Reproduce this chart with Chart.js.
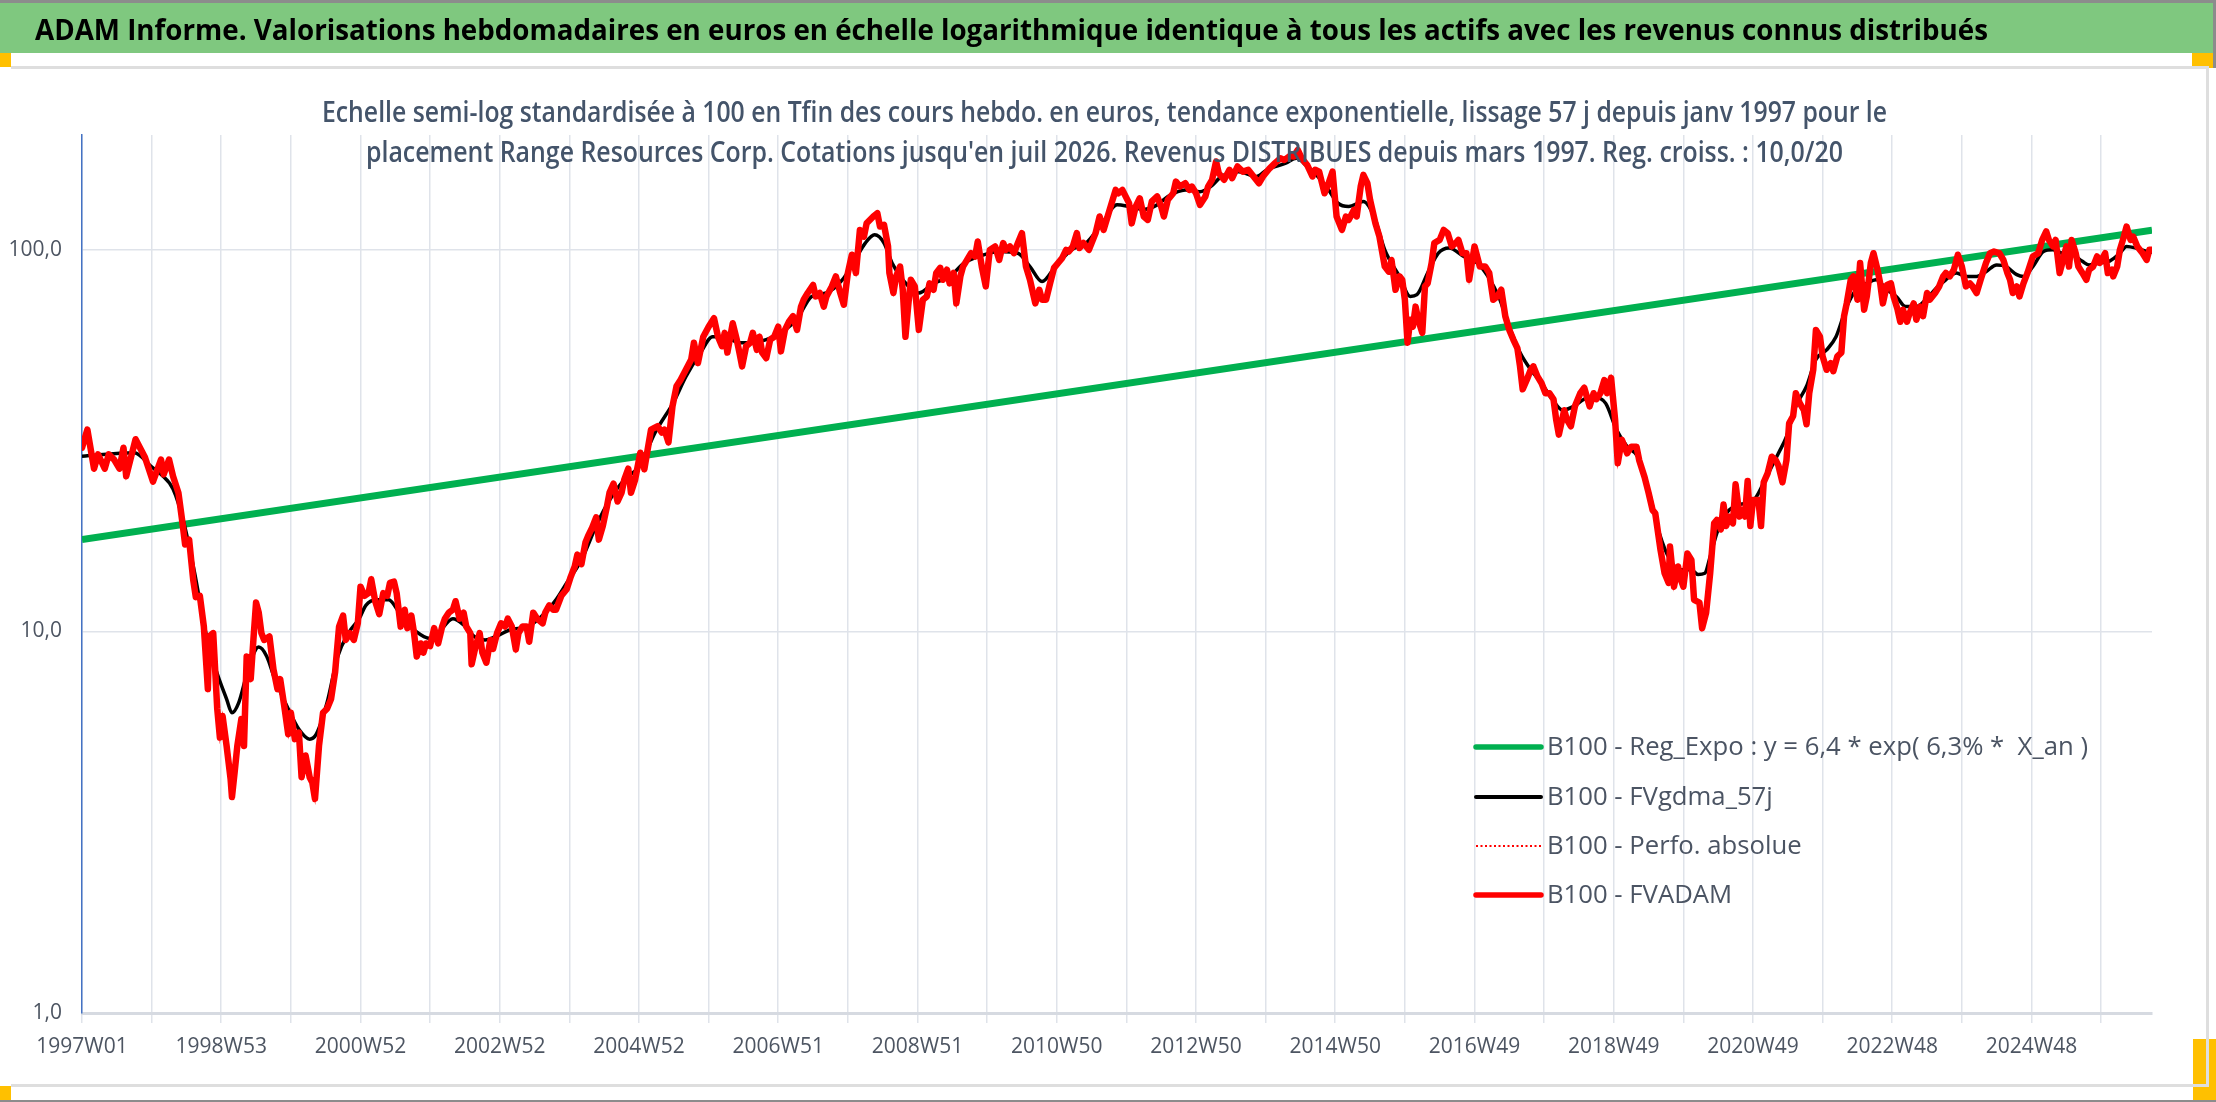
<!DOCTYPE html>
<html>
<head>
<meta charset="utf-8">
<script src="https://cdn.jsdelivr.net/npm/chart.js@4.4.1/dist/chart.umd.min.js"></script>
<style>
html,body{margin:0;padding:0;background:#fff;}
body{width:2216px;height:1102px;position:relative;overflow:hidden;font-family:"Open Sans",sans-serif;}
.abs{position:absolute;}
#topline{left:0;top:0;width:2216px;height:3px;background:#8c8c8c;}
#bar{left:0;top:3px;width:2213px;height:50px;background:#7fc87f;}
#rightdark{left:2213px;top:0;width:3px;height:68px;background:#8c8c8c;}
#oTL{left:0;top:53px;width:11px;height:14px;background:#ffc000;}
#oTR{left:2192px;top:53px;width:21px;height:15px;background:#ffc000;}
#oBL{left:0;top:1086px;width:11px;height:14px;background:#ffc000;}
#oBR{left:2193px;top:1039px;width:23px;height:61px;background:#ffc000;}
#lgTop{left:11px;top:66px;width:2197px;height:3px;background:#dedede;}
#lgBot{left:11px;top:1084px;width:2197px;height:3px;background:#dedede;}
#lgRight{left:2206px;top:66px;width:3px;height:1021px;background:#dedede;}
#botline{left:0;top:1100px;width:2216px;height:2px;background:#8c8c8c;}
#title{top:14px;font-weight:700;font-size:29px;line-height:29px;white-space:nowrap;color:#000;transform-origin:0 50%;z-index:3;}
.sub{font-weight:600;font-size:28px;line-height:28px;color:#44546a;white-space:nowrap;transform-origin:0 50%;z-index:3;}
#sub1{top:97px;}
#sub2{top:137px;}
#c{position:absolute;left:0;top:0;z-index:2;}
</style>
</head>
<body>
<div class="abs" id="topline"></div>
<div class="abs" id="bar"></div>
<div class="abs" id="rightdark"></div>
<div class="abs" id="oTL"></div>
<div class="abs" id="oTR"></div>
<div class="abs" id="oBL"></div>
<div class="abs" id="oBR"></div>
<div class="abs" id="lgTop"></div>
<div class="abs" id="lgBot"></div>
<div class="abs" id="lgRight"></div>
<div class="abs" id="botline"></div>
<div class="abs" id="title">ADAM Informe. Valorisations hebdomadaires en euros en échelle logarithmique identique à tous les actifs avec les revenus connus distribués</div>
<div class="abs sub" id="sub1">Echelle semi-log standardisée à 100 en Tfin des cours hebdo. en euros, tendance exponentielle, lissage 57 j depuis janv 1997 pour le</div>
<div class="abs sub" id="sub2">placement Range Resources Corp. Cotations jusqu'en juil 2026. Revenus DISTRIBUES depuis mars 1997. Reg. croiss. : 10,0/20</div>
<canvas id="c" width="2216" height="1102"></canvas>
<script>
// ---------- DATA (week index since 1997W01, value base 100) ----------
const xTickLabels = ['1997W01','1998W53','2000W52','2002W52','2004W52','2006W51','2008W51','2010W50','2012W50','2014W50','2016W49','2018W49','2020W49','2022W48','2024W48'];
const yTickValues = [1, 10, 100];
const weeksPerGrid = 52;
const lastWeek = 1546;

const seriesLabels = [
  'B100 - Reg_Expo : y = 6,4 * exp( 6,3% *  X_an )',
  'B100 - FVgdma_57j',
  'B100 - Perfo. absolue',
  'B100 - FVADAM'
];

const regExpoPoints = [[0,17.4],[1546,112.6]];

const fvadamPoints = [
[0,30.3],[4,33.8],[9,26.7],[12,29.1],[17,26.7],[20,29.1],[24,28.2],[28,26.7],[31,30.3],[33,25.5],
[40,31.9],[47,28.6],[53,24.7],[59,28.2],[61,25.8],[65,28.2],[68,25.5],[72,23.1],[75,19.3],[77,16.9],
[80,17.4],[83,13.7],[85,12.3],[88,12.4],[91,10.3],[94,7.06],[95,9.7],[98,9.9],[101,6.27],[103,5.27],
[105,6.0],[108,5.01],[111,4.10],[112,3.68],[114,4.28],[116,5.01],[119,5.89],[121,5.01],[123,8.6],[126,7.5],
[128,9.5],[130,11.9],[132,11.2],[134,9.9],[136,9.5],[140,9.7],[143,7.95],[146,7.06],[148,7.5],[151,6.4],
[154,5.38],[156,6.12],[159,5.22],[162,5.43],[164,4.15],[167,4.73],[170,4.15],[172,4.02],[174,3.64],[177,5.01],
[180,6.12],[183,6.27],[186,6.65],[189,7.8],[192,10.3],[195,11.0],[197,9.5],[200,9.9],[203,9.5],[206,10.5],
[208,13.1],[211,12.4],[214,12.6],[216,13.7],[219,12.0],[222,11.1],[225,12.6],[228,12.4],[230,13.4],[233,13.5],
[235,12.6],[238,10.3],[241,11.4],[243,10.2],[246,11.0],[248,9.9],[250,8.6],[253,9.3],[255,8.8],[257,9.3],
[260,9.15],[263,10.2],[266,9.3],[269,10.3],[271,10.8],[274,11.2],[277,11.4],[279,12.0],[282,10.8],[285,11.2],
[287,10.3],[290,9.9],[291,8.2],[294,9.15],[297,9.9],[299,8.8],[302,8.28],[305,9.5],[307,9.0],[310,9.9],
[313,10.5],[316,10.3],[318,10.8],[321,10.3],[324,8.97],[326,9.9],[329,10.3],[332,10.3],[334,9.4],[337,11.2],
[340,10.8],[344,10.5],[346,11.2],[349,11.7],[352,11.4],[354,11.4],[358,12.4],[362,12.9],[365,13.9],[368,14.8],
[370,15.9],[373,15.0],[376,17.1],[378,17.8],[381,18.7],[384,19.9],[386,17.4],[389,18.9],[392,21.2],[394,23.1],
[397,24.4],[400,21.9],[403,23.1],[405,25.0],[408,26.7],[410,23.1],[413,24.9],[417,29.4],
[420,26.6],[422,29.3],[425,33.8],[430,34.5],[433,33.2],[435,33.8],[438,31.3],[441,38.9],[444,43.9],[447,45.6],
[451,48.5],[455,51.6],[457,57.1],[460,50.5],[464,59.2],[468,62.9],[472,66.2],[475,59.2],[478,55.9],[480,60.6],
[482,53.8],[486,64.2],[489,58.2],[491,53.8],[493,49.5],[496,55.9],[499,57.1],[501,60.6],[504,54.7],[506,59.2],
[508,53.8],[511,52.0],[514,58.2],[517,59.2],[520,62.9],[522,54.2],[525,61.7],[528,64.8],[531,67.0],[534,61.7],
[537,71.0],[539,74.0],[542,77.1],[546,80.9],[548,75.5],[551,77.1],[554,71.0],[556,75.5],[560,80.2],[563,85.2],
[566,77.8],[569,71.8],[572,87.0],[575,97.1],[578,87.0],[581,112.8],[584,108.3],[586,117.4],[591,122.3],[594,124.8],
[596,115.1],[599,116.3],[602,102.1],[603,87.0],[606,77.1],[608,85.2],[611,90.4],[613,78.6],[615,59.2],[617,71.0],
[619,83.5],[622,80.2],[625,61.7],[628,74.0],[631,75.5],[633,81.7],[636,78.6],[638,87.0],[641,89.7],[643,83.5],
[646,88.7],[648,81.7],[651,87.0],[653,72.4],[656,85.2],[658,90.4],[661,94.1],[664,98.0],[667,96.1],[669,105.2],
[672,90.4],[675,80.2],[678,100.0],[682,102.1],[685,94.1],[688,104.2],[690,100.0],[693,102.1],[696,98.0],[699,104.2],
[702,110.6],[705,90.4],[708,83.5],[712,72.4],[715,78.6],[717,74.0],[720,74.0],[723,81.7],[726,89.7],[729,92.4],
[732,95.1],[735,100.0],[737,99.0],[740,102.1],[743,110.6],[745,101.1],[748,104.2],[752,100.0],[755,106.2],[757,110.6],
[760,122.3],[763,112.8],[766,122.3],[769,132.6],[772,143.6],[774,140.7],[777,143.6],[782,132.6],[784,117.4],[787,129.9],
[790,136.5],[793,122.3],[796,119.8],[799,133.9],[803,138.0],
[806,129.9],[808,122.3],[811,135.3],[815,140.7],[817,151.0],[820,146.5],[824,149.5],[827,143.6],[829,146.5],[832,140.7],
[835,131.2],[839,138.0],[841,146.5],[844,152.6],[847,170.4],[849,158.8],[853,152.6],[857,162.1],[859,154.1],[863,165.4],
[867,160.3],[871,162.1],[875,155.7],[879,149.5],[882,155.7],[887,163.6],[891,168.7],[895,173.7],[898,172.0],[902,176.2],
[905,175.7],[908,182.8],[911,173.7],[915,166.9],[919,155.7],[921,162.1],[924,160.3],[928,140.7],[931,149.5],[934,160.3],
[937,122.3],[941,112.8],[944,122.3],[946,119.8],[950,127.3],[952,122.3],[955,146.5],[957,157.2],[960,149.5],[962,135.3],
[966,117.4],[969,108.3],[973,90.4],[976,87.7],[978,94.1],[981,78.6],[984,85.2],[986,83.5],[988,74.0],[990,57.1],
[992,65.6],[994,62.9],[996,71.0],[998,65.6],[1001,60.6],[1003,80.2],[1005,81.7],[1008,92.4],[1010,104.2],[1014,106.2],
[1017,112.8],[1020,110.6],[1023,102.1],[1026,104.2],[1028,106.2],[1031,98.0],[1034,98.0],[1036,83.5],[1040,102.1],[1044,90.4],
[1048,90.4],[1051,87.0],[1054,74.0],[1057,75.5],[1060,78.6],[1063,67.0],[1066,61.7],[1069,58.2],[1072,55.3],[1074,49.5],
[1076,43.1],[1079,45.6],[1082,48.5],[1084,49.5],[1087,46.6],[1090,44.8],[1093,42.1],[1096,42.1],[1099,40.6],[1101,35.9],
[1103,32.8],[1107,38.0],[1109,35.9],[1112,34.5],[1115,38.9],[1119,42.1],[1122,43.5],[1126,38.9],[1129,42.1],[1131,40.6],
[1134,42.1],[1137,45.6],[1139,42.1],[1142,46.2],[1145,35.9],[1147,27.6],[1150,31.8],[1154,29.3],[1157,30.5],[1161,30.5],
[1163,28.1],[1167,25.4],[1170,23.1],[1173,20.8],[1175,20.4],[1179,16.3],[1182,14.2],[1185,13.4],[1186,16.7],[1189,13.1],
[1192,14.8],[1194,13.7],[1196,13.1],[1199,16.0],[1202,15.4],[1204,12.1],[1208,11.9],[1210,10.2],[1213,11.2],
[1216,14.2],[1219,19.2],[1221,19.6],[1224,18.5],[1226,21.5],[1228,18.9],[1230,20.0],[1233,19.2],[1235,24.3],[1238,20.0],
[1240,20.8],[1242,20.0],[1244,24.8],[1246,18.9],[1248,22.1],[1252,22.1],[1254,18.9],[1256,24.6],[1259,26.0],[1262,28.7],
[1265,28.1],[1267,27.2],[1270,24.6],[1273,28.1],[1275,35.1],[1278,36.7],[1280,42.1],[1283,39.6],[1286,38.0],[1288,34.9],
[1290,42.1],[1293,48.5],[1295,61.7],[1298,59.2],[1300,52.6],[1303,48.5],[1306,50.5],[1308,48.1],[1311,52.6],[1314,53.8],
[1316,67.0],[1318,72.4],[1321,83.5],[1323,85.2],[1326,74.0],[1328,92.4],[1331,69.7],[1333,75.5],[1336,92.4],[1338,98.0],
[1341,88.7],[1343,81.7],[1345,72.4],[1348,80.9],[1351,81.7],[1353,75.5],[1356,69.7],[1358,64.8],[1360,69.7],[1363,64.8],
[1365,68.3],[1368,72.4],[1370,65.6],[1373,71.0],[1375,67.0],[1378,77.1],[1380,74.0],[1384,77.1],[1387,80.2],[1390,85.2],
[1392,87.0],[1395,85.2],[1398,88.7],[1401,97.1],[1404,90.4],[1407,80.2],[1410,81.7],[1412,80.2],[1415,77.1],[1418,83.5],
[1422,92.4],[1425,98.0],[1428,99.0],[1432,98.0],[1435,94.1],[1438,87.0],[1440,83.5],[1442,77.1],[1445,80.2],[1447,75.5],
[1450,81.7],[1453,87.0],[1457,96.1],[1461,98.0],[1464,106.2],[1467,111.8],[1469,106.2],[1472,102.1],[1474,106.2],[1477,87.0],
[1479,92.4],[1482,102.1],[1484,90.4],[1486,106.2],[1489,98.0],[1491,90.4],[1494,87.0],[1497,83.5],[1499,88.7],[1502,90.4],
[1505,96.1],[1507,92.4],[1511,98.0],[1513,87.0],[1516,88.7],[1517,85.2],[1520,90.4],[1522,100.0],[1525,108.3],[1527,115.1],
[1530,106.2],[1532,108.3],[1535,102.1],[1539,98.0],[1542,94.1],[1544,100.0],[1546,100.0]
];

const gdmaPoints = [
[0,28.8],[39,29.4],[52,27.0],[59,25.8],[68,23.6],[76,19.3],[84,14.3],[92,10.1],[100,7.95],[108,6.65],
[112,6.12],[117,6.5],[124,7.95],[130,9.0],[132,9.1],[138,8.6],[144,7.5],[154,6.27],[162,5.54],[170,5.22],
[175,5.38],[183,6.5],[191,8.6],[199,9.9],[207,10.8],[212,11.7],[220,12.1],[229,12.1],[237,11.2],[245,10.3],
[253,9.8],[259,9.6],[266,9.9],[277,10.8],[285,10.4],[293,9.7],[301,9.5],[309,9.7],[320,10.1],[333,10.3],
[346,11.2],[354,12.1],[362,13.4],[373,15.4],[384,18.9],[394,22.1],[405,25.0],[416,27.0],[428,33.2],[442,40.0],
[451,46.5],[462,53.8],[471,59.2],[480,59.2],[491,57.1],[499,57.1],[511,58.2],[522,60.6],[534,65.9],[545,75.5],
[556,77.1],[568,83.5],[576,92.4],[585,104.2],[592,109.5],[599,104.2],[605,92.4],[613,83.5],[625,77.1],[636,81.7],
[648,85.2],[659,92.4],[670,96.1],[685,99.0],[699,98.0],[708,90.4],[717,82.6],[727,90.4],[739,100.0],[750,104.2],
[762,117.4],[773,131.2],[782,129.9],[793,127.6],[803,131.2],[811,138.0],[824,143.6],[835,142.1],[843,146.5],[851,155.7],
[864,160.3],[877,155.7],[885,162.1],[899,168.7],[907,173.7],[915,165.4],[923,155.7],[931,143.6],[938,132.6],[946,129.9],
[957,133.9],[965,122.3],[973,100.0],[984,85.2],[992,75.5],[997,76.3],[1005,87.0],[1013,98.0],[1021,101.1],[1032,96.1],
[1042,92.4],[1050,85.2],[1058,75.5],[1066,62.9],[1074,53.8],[1082,48.5],[1090,44.8],[1098,40.6],[1106,38.0],[1114,38.9],
[1122,40.6],[1130,41.0],[1138,39.6],[1146,33.8],[1154,30.5],[1162,28.7],[1170,23.5],[1178,18.1],[1186,15.4],[1194,14.5],
[1202,14.5],[1207,14.1],[1212,14.2],[1216,15.7],[1221,18.1],[1228,20.4],[1236,21.4],[1243,21.7],[1250,22.4],[1258,25.4],
[1267,29.3],[1273,32.4],[1280,38.9],[1288,43.9],[1295,51.6],[1303,54.7],[1310,59.2],[1318,71.0],[1325,78.6],[1333,81.7],
[1340,83.5],[1348,78.6],[1355,75.5],[1362,71.0],[1370,71.0],[1377,74.0],[1385,79.4],[1392,83.5],[1400,87.0],[1407,85.2],
[1415,85.2],[1422,87.7],[1430,91.3],[1437,90.4],[1445,86.1],[1450,85.2],[1457,90.4],[1465,99.0],[1472,100.0],[1479,98.0],
[1487,97.1],[1494,93.3],[1499,91.3],[1507,92.4],[1514,93.3],[1522,98.0],[1527,102.1],[1534,101.1],[1542,99.0],[1546,98.5]
];

// ---------- helpers ----------
const toXY = pts => pts.map(p => ({x: p[0], y: p[1]}));

function fitText(id, left, width) {
  const el = document.getElementById(id);
  el.style.transform = 'none';
  el.style.left = left + 'px';
  const w = el.getBoundingClientRect().width;
  el.style.transform = 'scaleX(' + (width / w) + ')';
}
function fitAll() {
  fitText('title', 35, 1953);
  fitText('sub1', 322, 1565);
  fitText('sub2', 366, 1477);
}
fitAll();

const legendPlugin = {
  id: 'excelLegend',
  afterDraw(chart) {
    const c = chart.ctx;
    const rows = [747, 797, 846, 895];
    const x1 = 1476, x2 = 1541, tx = 1547, targetW = 541;
    c.save();
    c.font = '400 26px "Open Sans"';
    const sx = targetW / c.measureText(seriesLabels[0]).width;
    chart.data.datasets.forEach((ds, i) => {
      const y = rows[i];
      c.save();
      c.strokeStyle = ds.borderColor;
      c.lineWidth = ds.legendWidth;
      c.lineCap = ds.borderDash ? 'butt' : 'round';
      c.setLineDash(ds.borderDash || []);
      c.beginPath(); c.moveTo(x1, y); c.lineTo(x2, y); c.stroke();
      c.restore();
      c.save();
      c.translate(tx, y);
      c.scale(sx, 1);
      c.fillStyle = '#4b5463';
      c.textBaseline = 'middle';
      c.textAlign = 'left';
      c.fillText(ds.label, 0, 1);
      c.restore();
    });
    c.restore();
  }
};

const tickFont = {family: '"Open Sans"', size: 21};

new Chart(document.getElementById('c'), {
  type: 'line',
  data: {
    datasets: [
      {label: seriesLabels[0], data: toXY(regExpoPoints), borderColor: '#00b050', borderWidth: 7, legendWidth: 5.5, order: 4, tension: 0},
      {label: seriesLabels[1], data: toXY(gdmaPoints), borderColor: '#000000', borderWidth: 3.5, legendWidth: 4, order: 3, cubicInterpolationMode: 'monotone'},
      {label: seriesLabels[2], data: toXY(fvadamPoints), borderColor: '#ff0000', borderWidth: 1.5, legendWidth: 2, borderDash: [2, 2.5], order: 2, tension: 0},
      {label: seriesLabels[3], data: toXY(fvadamPoints), borderColor: '#ff0000', borderWidth: 6.5, legendWidth: 5.5, order: 1, tension: 0, borderJoinStyle: 'round', borderCapStyle: 'round'}
    ]
  },
  options: {
    responsive: false,
    animation: false,
    elements: {point: {radius: 0, hoverRadius: 0}},
    layout: {padding: {left: 0, right: 64, top: 135, bottom: 0}},
    plugins: {legend: {display: false}, tooltip: {enabled: false}, title: {display: false}},
    events: [],
    scales: {
      x: {
        type: 'linear',
        min: 0,
        max: lastWeek,
        afterFit: s => { s.height = 89; },
        afterBuildTicks: s => {
          const t = [];
          for (let w = 0; w <= lastWeek; w += weeksPerGrid) t.push({value: w});
          s.ticks = t;
        },
        ticks: {
          autoSkip: false, maxRotation: 0, minRotation: 0, padding: 11,
          font: tickFont, color: '#4d5562',
          callback: (v, i) => (i % 2 === 0 && xTickLabels[i / 2]) ? xTickLabels[i / 2] : ''
        },
        grid: {color: '#dfe3ea', lineWidth: 1.5, drawTicks: true, tickLength: 10, tickColor: '#dfe3ea'},
        border: {color: '#d6dae1', width: 3}
      },
      y: {
        type: 'logarithmic',
        min: 1,
        max: 200,
        afterFit: s => { s.width = 82; },
        afterBuildTicks: s => { s.ticks = yTickValues.map(v => ({value: v})); },
        ticks: {
          padding: 20, font: tickFont, color: '#4d5562',
          callback: v => v.toFixed(1).replace('.', ',')
        },
        grid: {color: '#dfe3ea', lineWidth: 1.5, drawTicks: false},
        border: {color: '#4472c4', width: 1.5}
      }
    }
  },
  plugins: [legendPlugin]
});

if (document.fonts && document.fonts.ready) document.fonts.ready.then(fitAll);
</script>
</body>
</html>
